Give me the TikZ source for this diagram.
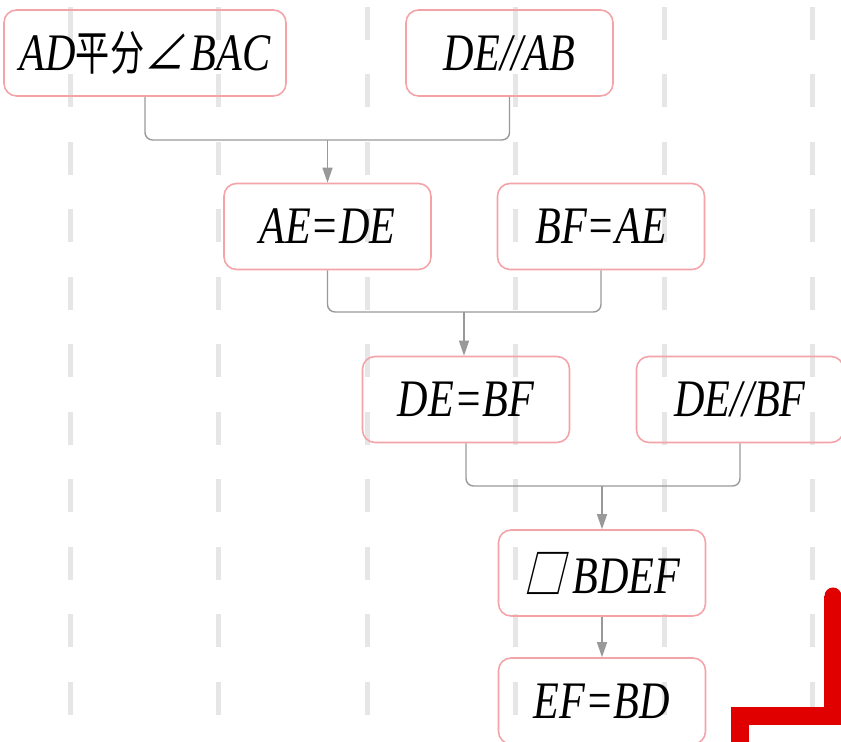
\documentclass[tikz,border=0pt]{standalone}
\usepackage{fontspec}
\usetikzlibrary{arrows.meta}
\setmainfont{Liberation Serif}
\newfontfamily\condfont[FakeStretch=0.8]{Liberation Serif}
\newfontfamily\cjkfont[FakeStretch=0.72,Scale=0.9]{Noto Sans CJK SC}
\newfontfamily\symfont[FakeStretch=0.75,FakeSlant=0.25]{Noto Sans CJK SC}
\definecolor{boxred}{HTML}{F4A3A8}
\definecolor{linegray}{HTML}{999999}
\definecolor{dashgray}{HTML}{E6E6E6}
\definecolor{markred}{HTML}{E00000}
\tikzset{
  fact/.style={draw=boxred, line width=0.9pt, rounded corners=0.25cm, minimum width=4.14cm, minimum height=1.72cm, inner sep=0pt, font=\condfont\itshape\fontsize{30}{30}\selectfont},
  link/.style={draw=linegray, line width=0.8pt, rounded corners=0.15cm},
  arrowlink/.style={draw=linegray, line width=0.8pt, -{Triangle[length=0.3cm,width=0.2cm]}}
}
\begin{document}
\begin{tikzpicture}[x=0.02cm,y=0.02cm]
\useasboundingbox (0,0) rectangle (841,742);
\foreach \gx in {70,218.5,367,515.5,664,812.5}
  \draw[dashgray, line width=0.1cm, dash pattern=on 0.66cm off 0.69cm] (\gx,735) -- (\gx,20); % guide lines
\node[fact, minimum width=5.64cm] (bisect) at (145,689) {AD{\cjkfont 平分}{\symfont ∠}\kern4ptBAC}; % row 1
\node[fact] (deab) at (509.5,689) {DE//AB};
\node[fact] (aede) at (327.5,515.5) {AE=DE}; % row 2
\node[fact] (bfae) at (601,515.5) {BF=AE};
\node[fact] (debf) at (466,342.5) {DE=BF}; % row 3
\node[fact] (depar) at (740,342.5) {DE//BF};
\node[fact] (para) at (602,169) {{\symfont □}\kern5ptBDEF}; % row 4
\node[fact] (efbd) at (602,41) {EF=BD}; % row 5
\coordinate (join1) at (327.5,602);
\coordinate (join2) at (464,430);
\coordinate (join3) at (602,256);
\draw[link] (bisect.south) |- (join1) -| (deab.south); % first bracket
\draw[arrowlink] (join1) -- (aede.north);
\draw[link] (aede.south) |- (join2) -| (bfae.south); % second bracket
\draw[arrowlink] (join2) -- (join2 |- debf.north);
\draw[link] (debf.south) |- (join3) -| (depar.south); % third bracket
\draw[arrowlink] (join3) -- (para.north);
\draw[arrowlink] (para.south) -- (efbd.north);
\draw[markred, line width=0.36cm] (833,146) -- (833,26) -- (740,26) -- (740,-5); % red mark
\fill[markred] (833,146) circle [radius=0.17cm];
\end{tikzpicture}
\end{document}
